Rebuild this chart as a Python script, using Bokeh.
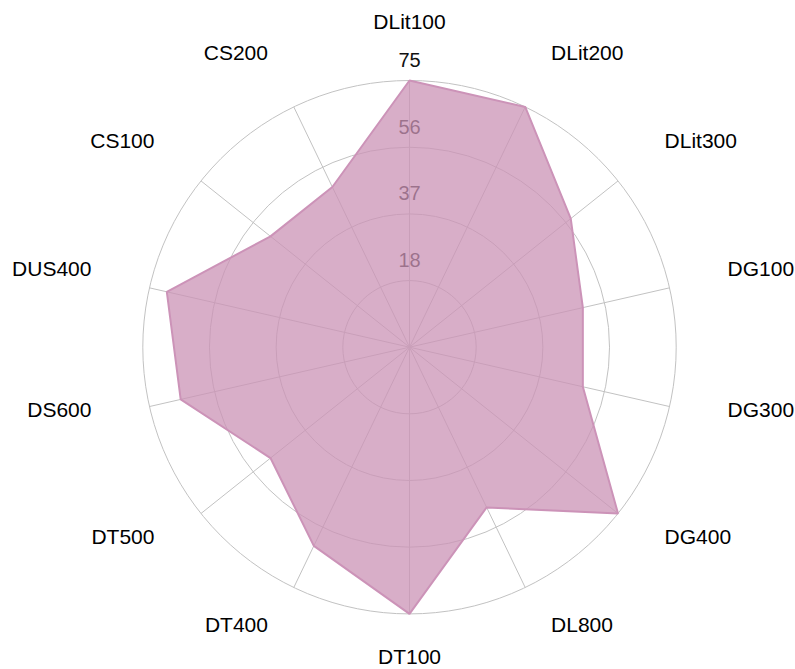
import math
from bokeh.plotting import figure
from bokeh.models import ColumnDataSource, Range1d
from bokeh.core.properties import value, field
from bokeh.embed import file_html
from bokeh.resources import INLINE

# ---- data ----
categories = ["DLit100", "DLit200", "DLit300", "DG100", "DG300", "DG400", "DL800",
              "DT100", "DT400", "DT500", "DS600", "DUS400", "CS100", "CS200"]
values = [75, 75, 58, 50, 50, 75, 50, 75, 62, 50, 66, 70, 50, 50]
ring_values = [18.75, 37.5, 56.25, 75]
ring_labels = ["18", "37", "56", "75"]
max_value = 75

# ---- layout (pixels) ----
W, H = 795, 669
CX, CY = 409, 346.7          # centre in plot pixels (from top-left)
R_PX = 266.7                 # pixel radius of max_value
S = R_PX / max_value         # pixels per data unit
LABEL_R = 326.2              # pixel radius of category label anchor

p = figure(width=W, height=H, output_backend="svg", toolbar_location=None,
           x_range=Range1d(-CX / S, (W - CX) / S),
           y_range=Range1d(-(H - CY) / S, CY / S),
           min_border=0, outline_line_color=None, background_fill_color="white",
           border_fill_color="white")
p.axis.visible = False
p.grid.visible = False

n = len(categories)
angles = [2 * math.pi * i / n for i in range(n)]

grid_color = "#c2c2c2"
# rings
for r in ring_values:
    p.circle(x=[0], y=[0], radius=r, fill_color=None, line_color=grid_color, line_width=1)
# spokes
p.segment(x0=[0] * n, y0=[0] * n,
          x1=[max_value * math.sin(a) for a in angles],
          y1=[max_value * math.cos(a) for a in angles],
          line_color=grid_color, line_width=1)

# ring labels (under the fill)
p.text(x=[0] * len(ring_values), y=[r + 20.5 / S for r in ring_values], text=ring_labels,
       text_font=value("Liberation Sans"), text_font_size="20px", text_color="#111111",
       text_align="center", text_baseline="middle")

# data polygon
px = [v * math.sin(a) for v, a in zip(values, angles)]
py = [v * math.cos(a) for v, a in zip(values, angles)]
p.patch(px, py, fill_color="#cb93b6", fill_alpha=0.75,
        line_color="#cc93b8", line_alpha=1.0, line_width=2)

# category labels
lx, ly, al = [], [], []
for a in angles:
    s, c = math.sin(a), math.cos(a)
    lx.append(LABEL_R * s / S)
    ly.append((LABEL_R * c + 8.5 * (1 - c)) / S)
    al.append("left" if s > 0.01 else ("right" if s < -0.01 else "center"))
src = ColumnDataSource(dict(x=lx, y=ly, t=categories, a=al))
p.text(x="x", y="y", text="t", source=src, text_align=field("a"),
       text_baseline="middle", text_font=value("Liberation Sans"),
       text_font_size="21px", text_color="#000000")

open("out.html", "w").write(file_html(p, INLINE))
